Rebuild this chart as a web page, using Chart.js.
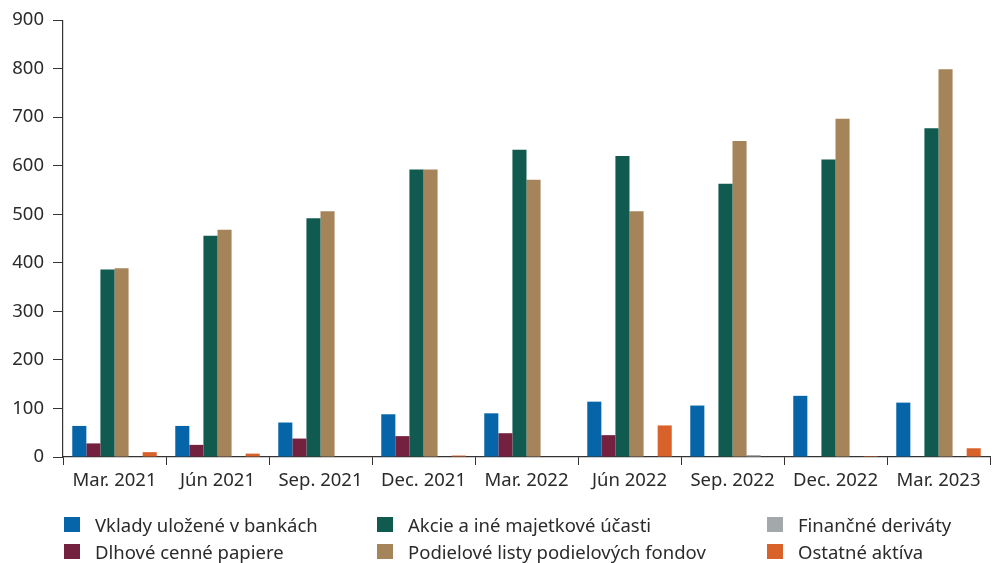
<!DOCTYPE html>
<html>
<head>
<meta charset="utf-8">
<script src="https://cdn.jsdelivr.net/npm/chart.js@4/dist/chart.umd.min.js"></script>
<style>
  html, body { margin: 0; padding: 0; background: #fff; }
  #wrap { position: relative; width: 995px; height: 563px; font-family: "Noto Sans", sans-serif; }
  #box { position: absolute; left: 0; top: 0; width: 995px; height: 495px; }
  #legend { position: absolute; left: 0; top: 0; width: 995px; height: 563px; pointer-events: none; }
  .li { position: absolute; display: flex; align-items: center; font-size: 18.5px; color: #2b2b2b; white-space: nowrap; }
  .sw { width: 16px; height: 15px; margin-right: 15px; }
</style>
</head>
<body>
<div id="wrap">
  <div id="box"><canvas id="c"></canvas></div>
  <div id="legend"></div>
</div>
<script>
const categories = ["Mar. 2021", "Jún 2021", "Sep. 2021", "Dec. 2021", "Mar. 2022", "Jún 2022", "Sep. 2022", "Dec. 2022", "Mar. 2023"];
const seriesNames = ["Vklady uložené v bankách", "Dlhové cenné papiere", "Akcie a iné majetkové účasti", "Podielové listy podielových fondov", "Finančné deriváty", "Ostatné aktíva"];
const vklady    = [64, 64, 71, 88, 90, 114, 106, 126, 112];
const dlhove    = [28, 25, 38, 43, 49, 45, 0, 0, 0];
const akcie     = [386, 456, 492, 592, 633, 620, 563, 613, 677];
const podielove = [389, 468, 506, 592, 571, 506, 651, 697, 799];
const derivaty  = [0, 0, 0, 1, 0, 1, 4, 1, 1];
const ostatne   = [10, 7, 0, 3, 0, 65, 0, 2, 18];
const yTicks = [0, 100, 200, 300, 400, 500, 600, 700, 800, 900];

const colors = ["#0565a8", "#74213f", "#115a4f", "#a6845a", "#a3a8ab", "#d9622b"];
const values = [vklady, dlhove, akcie, podielove, derivaty, ostatne];

const datasets = seriesNames.map((n, i) => ({
  label: n,
  data: values[i],
  backgroundColor: colors[i],
  borderWidth: 0,
  categoryPercentage: 0.82,
  barPercentage: 1.0
}));

const textColor = "#2b2b2b";
const chart = new Chart(document.getElementById("c"), {
  type: "bar",
  data: { labels: categories, datasets },
  options: {
    responsive: true,
    maintainAspectRatio: false,
    animation: false,
    layout: { padding: { top: 17, right: 5, left: 0, bottom: 0 } },
    plugins: { legend: { display: false }, tooltip: { enabled: false } },
    scales: {
      x: {
        grid: { display: true, drawOnChartArea: false, drawTicks: true, tickLength: 8, color: "#333", offset: true },
        border: { display: true, color: "#333", width: 1.2 },
        ticks: { color: textColor, font: { family: "Noto Sans", size: 18.5 }, padding: 5, maxRotation: 0 },
        afterFit: (s) => { s.height = 38; }
      },
      y: {
        min: 0, max: 900,
        afterBuildTicks: (s) => { s.ticks = yTicks.map(v => ({ value: v })); },
        grid: { display: true, drawOnChartArea: false, drawTicks: true, tickLength: 10, color: "#333" },
        border: { display: true, color: "#333", width: 1.2 },
        ticks: { color: textColor, font: { family: "Noto Sans", size: 18.5 }, padding: 9 },
        afterFit: (s) => { s.width = 63; }
      }
    }
  }
});

// HTML legend built from datasets, arranged in 3 columns x 2 rows
const legendPos = [
  { x: 64, y: 524.5 }, { x: 64, y: 551.5 },
  { x: 377, y: 524.5 }, { x: 377, y: 551.5 },
  { x: 767, y: 524.5 }, { x: 767, y: 551.5 }
];
const legend = document.getElementById("legend");
chart.data.datasets.forEach((ds, i) => {
  const d = document.createElement("div");
  d.className = "li";
  d.style.left = legendPos[i].x + "px";
  d.style.top = (legendPos[i].y - 12) + "px";
  d.style.height = "24px";
  const sw = document.createElement("span");
  sw.className = "sw";
  sw.style.background = ds.backgroundColor;
  const t = document.createElement("span");
  t.textContent = ds.label;
  d.appendChild(sw); d.appendChild(t);
  legend.appendChild(d);
});
</script>
</body>
</html>
